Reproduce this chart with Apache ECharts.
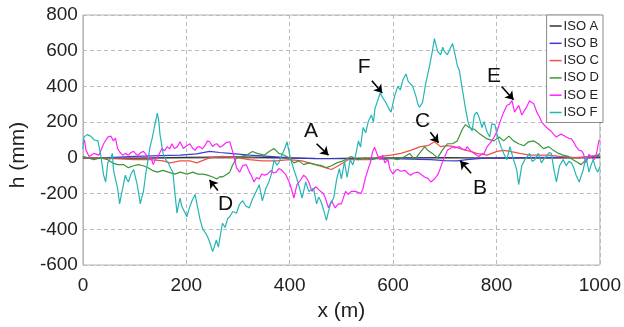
<!DOCTYPE html>
<html>
<head>
<meta charset="utf-8">
<script src="https://cdn.jsdelivr.net/npm/echarts@6/dist/echarts.min.js"></script>
<style>
  html, body { margin: 0; padding: 0; background: #fff; }
  #chart { width: 624px; height: 327px; }
</style>
</head>
<body>
<div id="chart"></div>
<script>
// road profiles, x in m, h in mm
const seriesNames = ['ISO A', 'ISO B', 'ISO C', 'ISO D', 'ISO E', 'ISO F'];
const xTicks = [0, 200, 400, 600, 800, 1000];
const yTicks = [-600, -400, -200, 0, 200, 400, 600, 800];

const aX = [0, 100, 200, 300, 400, 450, 500, 600, 700, 800, 900, 1000];
const aY = [0, -2, 3, 5, 0, -5, -3, 0, 2, -2, 0, 3];

const bX = [0, 50, 100, 150, 188, 220, 245, 265, 284, 322, 360, 400, 450, 500, 550, 600, 650, 673, 700, 724, 743, 782, 850, 900, 950, 1000];
const bY = [0, 2, 8, 12, 15, 22, 36, 30, 25, 15, 8, 0, -3, -5, -5, -5, -8, -10, -15, -17, -10, 0, 2, 3, 2, 5];

const cX = [0, 30, 60, 100, 130, 155, 169, 188, 207, 220, 236, 245, 270, 300, 322, 347, 374, 399, 424, 450, 469, 481, 494, 513, 558, 577, 596, 615, 634, 653, 667, 680, 692, 705, 718, 730, 743, 762, 782, 801, 814, 826, 845, 864, 883, 902, 922, 960, 979, 1000];
const cY = [0, 0, -5, -10, -10, -17, -28, -17, -17, -28, -10, 0, 8, 0, -10, -17, -17, -10, -17, -38, -55, -65, -44, -10, -10, 8, 15, 25, 42, 63, 68, 90, 63, 68, 63, 52, 42, 25, 15, 36, 42, 36, 25, 15, 15, 15, 8, 0, 8, 15];

const dX = [0, 10, 21, 34, 48, 57, 67, 79, 88, 98, 107, 117, 126, 134, 144, 155, 165, 178, 188, 201, 213, 222, 232, 241, 251, 259, 265, 270, 277, 284, 289, 297, 307, 316, 328, 337, 351, 360, 370, 379, 385, 399, 408, 418, 427, 437, 450, 462, 471, 481, 491, 500, 508, 519, 533, 546, 558, 571, 584, 596, 609, 623, 632, 642, 651, 661, 667, 676, 686, 695, 705, 715, 724, 734, 740, 747, 757, 768, 782, 795, 805, 814, 824, 833, 843, 853, 862, 872, 881, 891, 901, 910, 920, 929, 939, 948, 958, 964, 973, 983, 992, 1000];
const dY = [8, 0, -10, 0, -10, -28, -38, -38, -55, -44, -38, -44, -55, -70, -80, -70, -80, -91, -80, -91, -80, -91, -91, -97, -107, -118, -105, -107, -95, -80, -44, 0, 8, 15, 36, 25, 15, 36, 52, 25, 20, 0, -28, -17, -38, -28, -38, -44, -55, -44, -28, -20, -10, 8, -10, 0, -10, 0, -10, 0, -10, 8, 25, -10, 25, 63, 42, 25, 0, 42, 79, 79, 95, 160, 186, 170, 160, 133, 106, 95, 117, 95, 122, 95, 79, 68, 90, 95, 79, 52, 63, 42, 25, 15, 8, -10, -28, -38, -10, 8, 8, 25];

const eX = [0, 3, 6, 12, 21, 31, 36, 40, 48, 54, 59, 63, 67, 72, 77, 82, 88, 93, 98, 103, 107, 112, 117, 125, 132, 136, 140, 144, 149, 153, 158, 163, 168, 172, 177, 182, 188, 194, 201, 207, 212, 217, 221, 226, 231, 236, 241, 245, 251, 255, 259, 265, 270, 277, 284, 289, 293, 297, 303, 309, 316, 322, 326, 331, 336, 341, 346, 351, 357, 364, 369, 374, 379, 383, 388, 393, 399, 404, 408, 414, 421, 427, 432, 437, 443, 450, 455, 460, 465, 469, 475, 481, 488, 494, 500, 508, 513, 519, 527, 533, 538, 542, 546, 552, 556, 560, 564, 567, 571, 575, 580, 584, 590, 594, 600, 605, 609, 615, 623, 628, 634, 640, 648, 655, 661, 667, 673, 680, 686, 690, 695, 699, 705, 709, 715, 720, 728, 734, 740, 743, 750, 757, 762, 766, 771, 776, 782, 787, 791, 796, 801, 807, 814, 820, 825, 830, 835, 840, 843, 849, 853, 857, 864, 868, 872, 878, 883, 887, 892, 897, 901, 906, 911, 916, 920, 925, 930, 935, 940, 945, 950, 954, 960, 964, 968, 973, 979, 984, 989, 994, 998, 1000];
const eY = [79, 100, 42, 8, 25, 15, 50, 79, 116, 122, 95, 110, 52, 30, 15, 25, 15, 30, 36, 20, 15, 30, 36, 8, -1, -38, -10, 0, 30, 52, 40, 63, 50, 79, 52, 60, 90, 52, 68, 79, 55, 42, 60, 63, 50, 68, 95, 90, 63, 75, 79, 60, 68, 85, 90, 42, 0, -55, -80, -44, -38, -80, -100, -135, -110, -118, -90, -97, -91, -70, -85, -80, -60, -65, -80, -97, -135, -180, -225, -150, -124, -97, -110, -135, -188, -162, -175, -188, -200, -225, -280, -240, -280, -258, -258, -188, -205, -188, -188, -195, -199, -170, -118, -60, -28, 30, 60, 68, 8, -10, 15, -28, -10, -65, -91, -70, -65, -75, -70, -85, -97, -85, -80, -95, -107, -115, -135, -118, -97, -70, -28, 0, 42, 50, 63, 55, 63, 50, 42, 63, 40, 25, 15, 8, 20, 25, 63, 80, 95, 120, 149, 203, 256, 293, 300, 320, 256, 280, 293, 240, 260, 277, 320, 310, 304, 256, 230, 203, 185, 170, 160, 149, 130, 117, 125, 133, 125, 117, 110, 106, 85, 63, 42, 40, 25, -28, 20, 0, -10, 30, 95, 100];

const fX = [0, 2, 8, 15, 22, 29, 34, 40, 44, 48, 52, 57, 59, 63, 67, 71, 74, 77, 82, 85, 88, 93, 98, 105, 111, 114, 117, 121, 125, 130, 134, 138, 144, 147, 149, 152, 155, 160, 165, 170, 174, 178, 182, 185, 188, 191, 194, 198, 201, 206, 211, 217, 222, 227, 232, 237, 241, 245, 251, 255, 258, 262, 266, 270, 275, 280, 284, 290, 297, 303, 309, 315, 322, 328, 335, 341, 347, 351, 354, 359, 364, 370, 375, 379, 384, 389, 395, 399, 402, 408, 414, 419, 424, 431, 437, 446, 452, 456, 460, 466, 471, 475, 479, 485, 491, 496, 500, 506, 511, 517, 522, 527, 533, 537, 542, 547, 552, 558, 562, 565, 569, 575, 580, 586, 591, 596, 603, 609, 614, 619, 625, 629, 632, 638, 644, 648, 651, 657, 663, 670, 676, 680, 686, 692, 696, 699, 705, 710, 715, 720, 724, 728, 734, 740, 745, 749, 753, 757, 762, 766, 772, 776, 781, 787, 791, 797, 801, 805, 809, 814, 820, 826, 833, 839, 843, 849, 855, 860, 864, 869, 874, 881, 887, 892, 897, 902, 906, 912, 916, 922, 929, 935, 940, 945, 950, 954, 960, 964, 968, 973, 979, 983, 987, 992, 996, 1000];
const fY = [50, 116, 130, 122, 100, 95, 25, -97, -135, -28, -10, 25, -65, -120, -170, -258, -210, -170, -97, -120, -135, -90, -65, -150, -258, -220, -190, -100, -28, 63, 110, 170, 250, 200, 133, 80, 25, -10, -28, -60, -80, -200, -310, -260, -225, -270, -280, -310, -330, -280, -240, -205, -280, -350, -400, -420, -440, -470, -525, -490, -460, -500, -430, -366, -390, -340, -330, -300, -310, -260, -240, -270, -280, -230, -188, -150, -240, -200, -170, -140, -97, -10, -40, -28, 10, 42, 90, 30, -10, -65, -118, -170, -225, -135, -188, -170, -258, -220, -240, -295, -350, -300, -258, -225, -118, -60, -118, -20, -110, -10, -40, 8, 95, 60, 170, 140, 203, 240, 200, 277, 310, 363, 336, 310, 280, 256, 347, 400, 380, 437, 470, 430, 437, 400, 347, 300, 283, 310, 416, 507, 598, 668, 598, 577, 620, 598, 577, 610, 641, 577, 520, 491, 384, 277, 200, 170, 150, 240, 256, 230, 170, 203, 150, 117, 190, 186, 133, 95, 60, 25, -10, 63, -10, -65, -150, -44, -10, 10, 25, -20, -10, 25, -28, -5, 8, 30, 25, -80, -135, -44, -10, -44, -20, -28, -60, -97, -135, -100, -65, 8, -80, -40, -10, -60, -80, -50];

// letter labels with their arrows: text position, arrow tail, arrow head (data units)
const labelNames = ['A', 'B', 'C', 'D', 'E', 'F'];
const labelPos = [[441, 149], [768, -172], [657, 208], [276, -258], [795, 459], [544, 507]];
const arrowFrom = [[452, 79], [751, -86], [672, 143], [261, -183], [810, 400], [559, 432]];
const arrowTo = [[475, 15], [730, -17], [688, 85], [245, -124], [833, 325], [579, 363]];

const colors = ['#333333', '#3b3bd6', '#f0504a', '#3c963c', '#ff22ff', '#25b5b5'];
const xs = [aX, bX, cX, dX, eX, fX];
const ys = [aY, bY, cY, dY, eY, fY];

const font = 'Liberation Sans';

function zip(x, y) {
  return x.map((v, i) => [v, y[i]]);
}

const series = seriesNames.map((name, k) => ({
  name: name,
  type: 'line',
  data: zip(xs[k], ys[k]),
  symbol: 'none',
  lineStyle: { width: 1.2, color: colors[k] },
  itemStyle: { color: colors[k] },
  z: 2 + k,
}));

// annotations hang on an empty helper series so they sit on top
series.push({
  name: 'notes',
  type: 'line',
  data: [],
  z: 20,
  markLine: {
    silent: true,
    symbol: ['none', 'arrow'],
    symbolSize: 8,
    lineStyle: { color: '#000', width: 1.6, type: 'solid' },
    label: { show: false },
    data: arrowFrom.map((p, i) => [{ coord: p }, { coord: arrowTo[i] }]),
  },
  markPoint: {
    silent: true,
    symbol: 'circle',
    symbolSize: 1,
    itemStyle: { color: 'rgba(0,0,0,0)' },
    label: {
      show: true,
      position: 'inside',
      formatter: '{b}',
      color: '#111',
      fontSize: 21,
      fontFamily: font,
    },
    data: labelNames.map((n, i) => ({ name: n, coord: labelPos[i] })),
  },
});

const chart = echarts.init(document.getElementById('chart'));
chart.setOption({
  animation: false,
  backgroundColor: '#fff',
  grid: {
    left: 82, right: 20, top: 15, bottom: 50,
    show: true, borderColor: '#b5b5b5', borderWidth: 1,
  },
  legend: {
    data: seriesNames,
    orient: 'vertical',
    right: 21,
    top: 15,
    icon: 'rect',
    itemWidth: 12,
    itemHeight: 1.5,
    itemGap: 3.3,
    padding: [4, 4, 3, 3],
    borderColor: '#888',
    borderWidth: 1,
    backgroundColor: '#fff',
    textStyle: { fontSize: 13, lineHeight: 14, color: '#222', fontFamily: font, padding: [0, 0, 0, -3] },
  },
  xAxis: {
    type: 'value',
    min: xTicks[0],
    max: xTicks[xTicks.length - 1],
    interval: 200,
    name: 'x (m)',
    nameLocation: 'middle',
    nameGap: 36,
    nameTextStyle: { fontSize: 21, color: '#222', fontFamily: font },
    axisLine: { lineStyle: { color: '#b5b5b5' } },
    axisTick: { show: false },
    axisLabel: { fontSize: 19, color: '#222', fontFamily: font, margin: 11, formatter: v => String(v) },
    splitLine: { show: true, lineStyle: { color: '#bbb', type: [4, 3] } },
  },
  yAxis: {
    type: 'value',
    min: yTicks[0],
    max: yTicks[yTicks.length - 1],
    interval: 200,
    name: 'h (mm)',
    nameLocation: 'middle',
    nameGap: 46,
    nameTextStyle: { fontSize: 21, color: '#222', fontFamily: font, padding: [0, 30, 0, 0] },
    axisLine: { show: true, lineStyle: { color: '#b5b5b5' } },
    axisTick: { show: false },
    axisLabel: { fontSize: 19, color: '#222', fontFamily: font, margin: 5 },
    splitLine: { show: true, lineStyle: { color: '#bbb', type: [4, 3] } },
  },
  series: series,
});
</script>
</body>
</html>
